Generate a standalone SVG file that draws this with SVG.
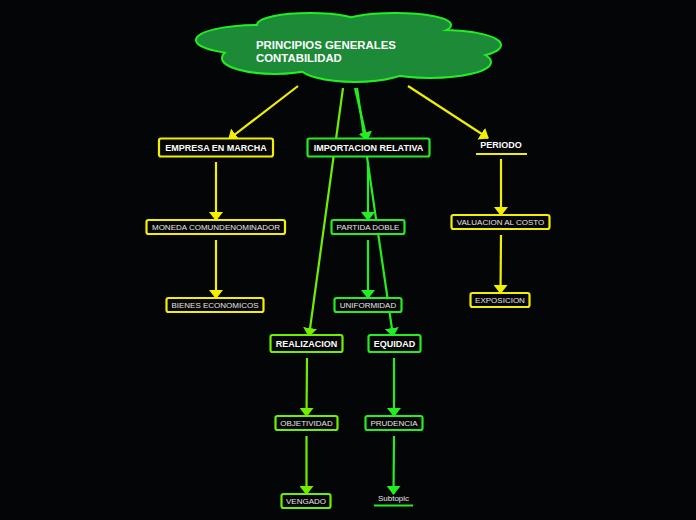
<svg xmlns="http://www.w3.org/2000/svg" width="696" height="520" viewBox="0 0 696 520">
<defs>
<style>
.bg{fill:#040507}
.box{fill:#050505;stroke-width:2.2}
.y{stroke:#f2ef00}
.g{stroke:#22ee22}
.l{stroke:#6fee00}
.t1{font-family:"Liberation Sans",Arial,sans-serif;font-weight:bold;font-size:9px;fill:#ffffff;text-anchor:middle}
.t2{font-family:"Liberation Sans",Arial,sans-serif;font-size:8px;fill:#e6e6e6;text-anchor:middle}
.ct{font-family:"Liberation Sans",Arial,sans-serif;font-weight:bold;font-size:11.4px;fill:#ffffff}
.c{fill:none;stroke-width:2.2}
.cs{stroke:#22ee22;stroke-width:4}
.cf{fill:#1c8a36}
</style>
<marker id="ay" viewBox="0 0 9 14" refX="8" refY="7" markerWidth="9" markerHeight="14" markerUnits="userSpaceOnUse" orient="auto">
<path d="M0,0 L9,7 L0,14 Z" fill="#f2ef00"/>
</marker>
<marker id="ag" viewBox="0 0 9 14" refX="8" refY="7" markerWidth="9" markerHeight="14" markerUnits="userSpaceOnUse" orient="auto">
<path d="M0,0 L9,7 L0,14 Z" fill="#22ee22"/>
</marker>
<marker id="al" viewBox="0 0 9 14" refX="8" refY="7" markerWidth="9" markerHeight="14" markerUnits="userSpaceOnUse" orient="auto">
<path d="M0,0 L9,7 L0,14 Z" fill="#6fee00"/>
</marker>
</defs>
<rect class="bg" x="0" y="0" width="696" height="520"/>

<g id="root">
<g class="cs">
<ellipse cx="260" cy="40" rx="63" ry="14"/>
<ellipse cx="310" cy="25" rx="52" ry="11"/>
<ellipse cx="395" cy="25" rx="55" ry="11"/>
<ellipse cx="440" cy="45" rx="60" ry="14"/>
<ellipse cx="275" cy="58" rx="52" ry="15"/>
<ellipse cx="430" cy="62" rx="60" ry="15"/>
<ellipse cx="355" cy="66" rx="55" ry="15"/>
</g>
<g class="cf">
<ellipse cx="260" cy="40" rx="63" ry="14"/>
<ellipse cx="310" cy="25" rx="52" ry="11"/>
<ellipse cx="395" cy="25" rx="55" ry="11"/>
<ellipse cx="440" cy="45" rx="60" ry="14"/>
<ellipse cx="275" cy="58" rx="52" ry="15"/>
<ellipse cx="430" cy="62" rx="60" ry="15"/>
<ellipse cx="355" cy="66" rx="55" ry="15"/>
<ellipse cx="350" cy="46" rx="110" ry="24"/>
</g>
<text class="ct" x="256" y="49">PRINCIPIOS GENERALES</text>
<text class="ct" x="256" y="62">CONTABILIDAD</text>
</g>

<g id="connectors">
<line class="c y" x1="298" y1="86" x2="229" y2="139" marker-end="url(#ay)"/>
<line class="c l" x1="343" y1="88" x2="309" y2="336" marker-end="url(#al)"/>
<line class="c g" x1="355" y1="88" x2="367" y2="140" marker-end="url(#ag)"/>
<line class="c g" x1="357" y1="88" x2="393" y2="336" marker-end="url(#ag)"/>
<line class="c y" x1="408" y1="86" x2="488" y2="138" marker-end="url(#ay)"/>
<line class="c y" x1="216" y1="162" x2="216" y2="220" marker-end="url(#ay)"/>
<line class="c y" x1="216" y1="240" x2="216" y2="298" marker-end="url(#ay)"/>
<line class="c g" x1="368" y1="162" x2="368" y2="220" marker-end="url(#ag)"/>
<line class="c g" x1="368" y1="240" x2="368" y2="298" marker-end="url(#ag)"/>
<line class="c y" x1="501" y1="159" x2="501" y2="215" marker-end="url(#ay)"/>
<line class="c y" x1="501" y1="235" x2="500.5" y2="293" marker-end="url(#ay)"/>
<line class="c l" x1="307" y1="358" x2="306.5" y2="416" marker-end="url(#al)"/>
<line class="c l" x1="306.5" y1="436" x2="306.5" y2="494" marker-end="url(#al)"/>
<line class="c g" x1="394" y1="358" x2="394" y2="416" marker-end="url(#ag)"/>
<line class="c g" x1="394" y1="436" x2="393.5" y2="494" marker-end="url(#ag)"/>
</g>

<g id="empresa">
<rect class="box y" x="159" y="138.5" width="114" height="18" rx="2"/>
<text class="t1" x="216" y="150.5">EMPRESA EN MARCHA</text>
</g>
<g id="importacion">
<rect class="box g" x="307.5" y="138.5" width="122" height="18" rx="2"/>
<text class="t1" x="368.5" y="150.5">IMPORTACION RELATIVA</text>
</g>
<g id="periodo">
<text class="t1" x="501" y="148">PERIODO</text>
<line x1="476" y1="154" x2="527" y2="154" stroke="#f2ef00" stroke-width="2"/>
</g>
<g id="moneda">
<rect class="box y" x="146.5" y="220" width="138.5" height="14" rx="2"/>
<text class="t2" x="216" y="230">MONEDA COMUNDENOMINADOR</text>
</g>
<g id="partida">
<rect class="box g" x="331.5" y="220" width="73" height="14" rx="2"/>
<text class="t2" x="368" y="230">PARTIDA DOBLE</text>
</g>
<g id="valuacion">
<rect class="box y" x="451.5" y="215" width="98" height="14" rx="2"/>
<text class="t2" x="500.5" y="225">VALUACION AL COSTO</text>
</g>
<g id="bienes">
<rect class="box y" x="166.5" y="298" width="97" height="14" rx="2"/>
<text class="t2" x="215" y="308">BIENES ECONOMICOS</text>
</g>
<g id="uniformidad">
<rect class="box g" x="334.5" y="298" width="67" height="14" rx="2"/>
<text class="t2" x="368" y="308">UNIFORMIDAD</text>
</g>
<g id="exposicion">
<rect class="box y" x="470.5" y="293" width="59" height="14" rx="2"/>
<text class="t2" x="500" y="303">EXPOSICION</text>
</g>
<g id="realizacion">
<rect class="box l" x="270.5" y="335" width="72" height="17" rx="2"/>
<text class="t1" x="306.5" y="346.5">REALIZACION</text>
</g>
<g id="equidad">
<rect class="box g" x="368.5" y="335" width="52" height="17" rx="2"/>
<text class="t1" x="394.5" y="346.5">EQUIDAD</text>
</g>
<g id="objetividad">
<rect class="box l" x="275.5" y="416" width="62" height="14" rx="2"/>
<text class="t2" x="306.5" y="426">OBJETIVIDAD</text>
</g>
<g id="prudencia">
<rect class="box g" x="365.5" y="416" width="57" height="14" rx="2"/>
<text class="t2" x="394" y="426">PRUDENCIA</text>
</g>
<g id="vengado">
<rect class="box l" x="281.5" y="494" width="49" height="14" rx="2"/>
<text class="t2" x="306" y="504">VENGADO</text>
</g>
<g id="subtopic">
<text class="t2" x="393.5" y="501">Subtopic</text>
<line x1="374" y1="505.5" x2="413" y2="505.5" stroke="#22ee22" stroke-width="2"/>
</g>
</svg>
